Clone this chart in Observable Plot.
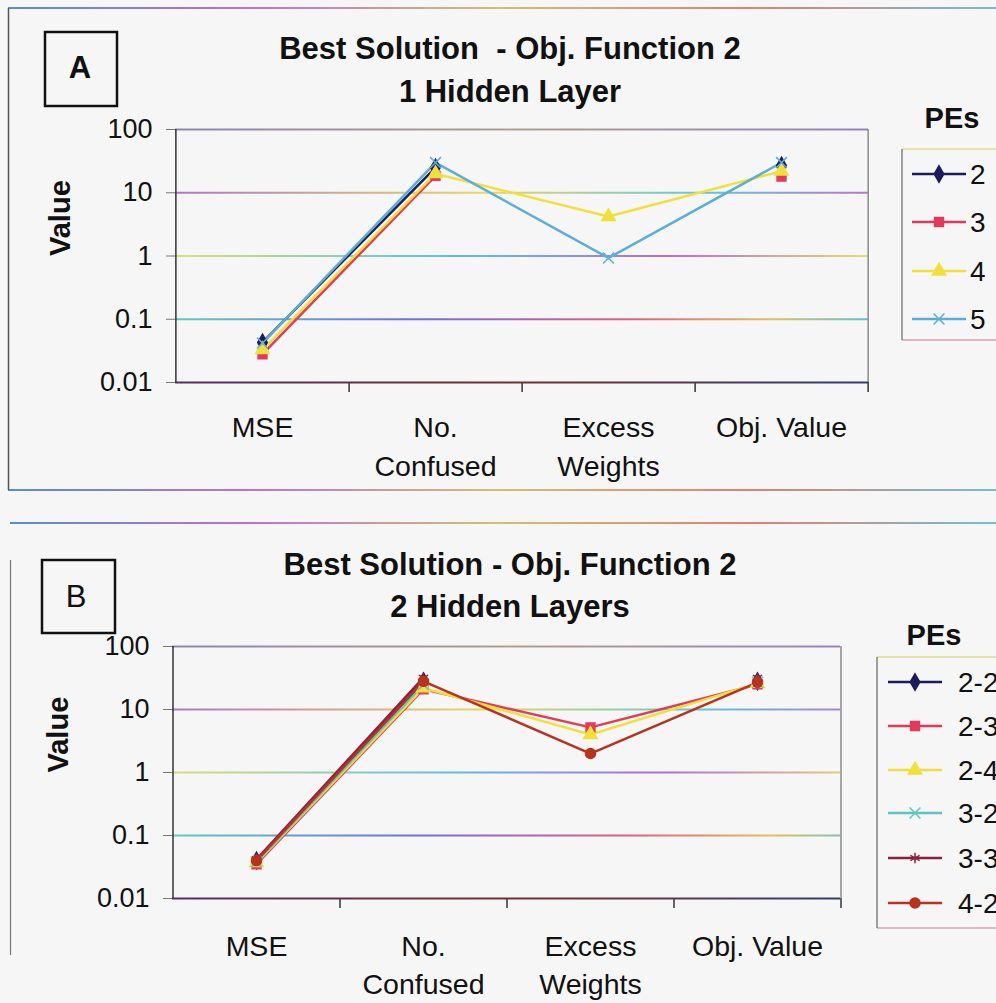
<!DOCTYPE html>
<html><head><meta charset="utf-8">
<script src="https://cdn.jsdelivr.net/npm/d3@7"></script>
<script src="https://cdn.jsdelivr.net/npm/@observablehq/plot@0.6"></script>
<style>
html,body{margin:0;padding:0;background:#f6f6f6;}
#page{position:relative;width:996px;height:1003px;overflow:hidden;font-family:"Liberation Sans",Arial,sans-serif;}
#page > svg{position:absolute;left:0;}
</style></head><body>
<svg width="0" height="0" style="position:absolute">
  <defs>
    <linearGradient id="g100" gradientUnits="userSpaceOnUse" x1="160" x2="880" y1="0" y2="0">
      <stop offset="0" stop-color="#8f86b0"/><stop offset="0.5" stop-color="#b0a090"/><stop offset="1" stop-color="#9a80c0"/>
    </linearGradient>
    <linearGradient id="g10" gradientUnits="userSpaceOnUse" x1="160" x2="880" y1="0" y2="0">
      <stop offset="0" stop-color="#b070d0"/><stop offset="0.45" stop-color="#e8d860"/><stop offset="0.75" stop-color="#60c8d8"/><stop offset="1" stop-color="#c070d0"/>
    </linearGradient>
    <linearGradient id="g1" gradientUnits="userSpaceOnUse" x1="160" x2="880" y1="0" y2="0">
      <stop offset="0" stop-color="#e0e070"/><stop offset="0.4" stop-color="#60c0e0"/><stop offset="0.7" stop-color="#b070d0"/><stop offset="1" stop-color="#e8e070"/>
    </linearGradient>
    <linearGradient id="g01" gradientUnits="userSpaceOnUse" x1="160" x2="880" y1="0" y2="0">
      <stop offset="0" stop-color="#60d0c0"/><stop offset="0.35" stop-color="#7070e0"/><stop offset="0.65" stop-color="#e06080"/><stop offset="0.85" stop-color="#e0c060"/><stop offset="1" stop-color="#50c0e0"/>
    </linearGradient>
    <linearGradient id="g001" gradientUnits="userSpaceOnUse" x1="160" x2="880" y1="0" y2="0">
      <stop offset="0" stop-color="#503060"/><stop offset="0.5" stop-color="#703030"/><stop offset="1" stop-color="#304070"/>
    </linearGradient>
    <linearGradient id="gframe" gradientUnits="userSpaceOnUse" x1="0" x2="996" y1="0" y2="0">
      <stop offset="0" stop-color="#5090d0"/><stop offset="0.25" stop-color="#c070d0"/><stop offset="0.5" stop-color="#d0c070"/><stop offset="0.75" stop-color="#e08070"/><stop offset="1" stop-color="#70c0d0"/>
    </linearGradient>
  </defs>
</svg>
<div id="page"></div>
<script>
// ---------- shared ----------
const categories = ["MSE", "No. Confused", "Excess Weights", "Obj. Value"];
const categoryTickLabels = ["MSE", "No.\nConfused", "Excess\nWeights", "Obj. Value"];
const yTicks = [0.01, 0.1, 1, 10, 100];
const yTickLabels = ["0.01", "0.1", "1", "10", "100"];
const yLabel = "Value";
const legendTitle = "PEs";

// ---------- panel A ----------
const panelA = "A";
const titleA = ["Best Solution  - Obj. Function 2", "1 Hidden Layer"];
const seriesA = ["2", "3", "4", "5"];
const peA2 = [0.043, 25, null, 27];
const peA3 = [0.028, 18.5, null, 18];
const peA4 = [0.033, 20, 4.2, 22];
const peA5 = [0.042, 30, 0.93, 30];
const colorsA = ["#1c1c5c", "#e23a5a", "#f2e03a", "#5aaed8"];
const symbolsA = ["diamond", "square", "triangle", "times"];

// ---------- panel B ----------
const panelB = "B";
const titleB = ["Best Solution - Obj. Function 2", "2 Hidden Layers"];
const seriesB = ["2-2", "2-3", "2-4", "3-2", "3-3", "4-2"];
const peB22 = [0.040, 28, null, 28];
const peB23 = [0.035, 21, 5.2, 25];
const peB24 = [0.037, 22, 4.0, 26];
const peB32 = [0.038, 25, null, 27];
const peB33 = [0.042, 32, null, 32];
const peB42 = [0.040, 28, 2.0, 27];
const colorsB = ["#1c1c5c", "#e23a5a", "#f2e03a", "#5ec4c4", "#8c2040", "#b8321e"];
const symbolsB = ["diamond", "square", "triangle", "times", "asterisk", "circle"];

const gridStrokes = ["url(#g001)", "url(#g01)", "url(#g1)", "url(#g10)", "url(#g100)"];
const FONT = '"Liberation Sans", Arial, sans-serif';

function chart(o) {
  const rows = [];
  o.series.forEach((s, i) => o.values[i].forEach((v, j) =>
    rows.push({series: s, category: categories[j], value: v == null ? NaN : v})));
  const step = (o.width - o.ml - o.mr) / categories.length;
  const plotH = o.height - o.mt - o.mb;
  return Plot.plot({
    width: o.width, height: o.height,
    marginLeft: o.ml, marginRight: o.mr, marginTop: o.mt, marginBottom: o.mb,
    style: {background: "transparent", fontFamily: FONT, fontSize: "27px", color: "#111", overflow: "visible"},
    x: {type: "point", domain: categories, padding: 0.5, label: null},
    y: {type: "log", domain: [0.01, 100], label: null},
    color: {domain: o.series, range: o.colors},
    symbol: {domain: o.series, range: o.symbols},
    marks: [
      ...yTicks.slice(1).map((t, i) => Plot.ruleY([t], {stroke: gridStrokes[i + 1], strokeWidth: 2})),
      Plot.ruleX([categories[categories.length - 1]], {dx: step / 2, stroke: "#8a8a8a", strokeWidth: 1.5}),
      Plot.ruleX(categories, {dx: step / 2, insetTop: plotH, insetBottom: -10, stroke: "#333", strokeWidth: 1.5}),
      Plot.ruleY([yTicks[0]], {stroke: gridStrokes[0], strokeWidth: 2}),
      Plot.ruleX([categories[0]], {dx: -step / 2, stroke: "#333", strokeWidth: 1.5}),
      Plot.axisY({ticks: yTicks, tickFormat: d => yTickLabels[yTicks.indexOf(d)], tickSize: 9, tickPadding: 14,
        stroke: "#777", fill: "#111", label: null}),
      Plot.axisX({tickSize: 0, tickPadding: o.tickPad, lineHeight: o.lineHeight, fontSize: 28.5,
        tickFormat: d => categoryTickLabels[categories.indexOf(d)], fill: "#111", label: null}),
      Plot.line(rows, {x: "category", y: "value", z: "series", stroke: "series", strokeWidth: 2.5}),
      Plot.dot(rows, {x: "category", y: "value", symbol: "series", fill: "series", stroke: "series", strokeWidth: 1.5, r: 5}),
      Plot.text([yLabel], {text: d => d, frameAnchor: "left", rotate: -90, dx: o.labelDx,
        fontWeight: "bold", fontSize: 29, fill: "#111"})
    ]
  });
}

const page = document.getElementById("page");

const plotA = chart({series: seriesA, values: [peA2, peA3, peA4, peA5], colors: colorsA, symbols: symbolsA,
  width: 996, height: 490, ml: 175, mr: 128, mt: 129, mb: 108, tickPad: 27, lineHeight: 1.37, labelDx: -115});
plotA.style.top = "0px";
page.appendChild(plotA);

const plotB = chart({series: seriesB, values: [peB22, peB23, peB24, peB32, peB33, peB42], colors: colorsB, symbols: symbolsB,
  width: 996, height: 503, ml: 172, mr: 156, mt: 146, mb: 105, tickPad: 31, lineHeight: 1.32, labelDx: -114});
plotB.style.top = "500px";
page.appendChild(plotB);

// ---------- overlay: frames, titles, panel letters, legends ----------
const ov = d3.select(page).append("svg").attr("width", 996).attr("height", 1003)
  .style("top", "0px").style("font-family", FONT);

// panel frames
ov.append("line").attr("x1", 8).attr("x2", 996).attr("y1", 8).attr("y2", 8).attr("stroke", "url(#gframe)").attr("stroke-width", 2);
ov.append("line").attr("x1", 8).attr("x2", 996).attr("y1", 490).attr("y2", 490).attr("stroke", "url(#gframe)").attr("stroke-width", 2);
ov.append("line").attr("x1", 8.5).attr("x2", 8.5).attr("y1", 8).attr("y2", 490).attr("stroke", "#555").attr("stroke-width", 1.5);
ov.append("line").attr("x1", 10).attr("x2", 996).attr("y1", 523).attr("y2", 523).attr("stroke", "url(#gframe)").attr("stroke-width", 2);
ov.append("line").attr("x1", 10.5).attr("x2", 10.5).attr("y1", 560).attr("y2", 955).attr("stroke", "#777").attr("stroke-width", 1.2);

const symMap = {diamond: d3.symbolDiamond, square: d3.symbolSquare, triangle: d3.symbolTriangle,
  times: d3.symbolTimes, asterisk: d3.symbolAsterisk, circle: d3.symbolCircle};

function annotate(p) {
  // title
  p.title.forEach((t, i) => ov.append("text").attr("x", p.titleX).attr("y", p.titleY[i])
    .attr("text-anchor", "middle").attr("font-weight", "bold").attr("font-size", 31).attr("fill", "#111")
    .style("white-space", "pre").text(t));
  // panel letter box
  ov.append("rect").attr("x", p.box[0]).attr("y", p.box[1]).attr("width", p.box[2]).attr("height", p.box[3])
    .attr("fill", "none").attr("stroke", "#111").attr("stroke-width", 2.5);
  ov.append("text").attr("x", p.letterX).attr("y", p.letterY).attr("text-anchor", "middle")
    .attr("font-weight", p.letterWeight).attr("font-size", 31).attr("fill", "#111").text(p.letter);
  // legend
  ov.append("text").attr("x", p.legTitleX).attr("y", p.legTitleY).attr("text-anchor", "middle")
    .attr("font-weight", "bold").attr("font-size", 29).attr("fill", "#111").text(legendTitle);
  const [lx, ly, lh] = p.legBox;
  ov.append("line").attr("x1", lx).attr("x2", 996).attr("y1", ly).attr("y2", ly).attr("stroke", "#e0d890").attr("stroke-width", 1.5);
  ov.append("line").attr("x1", lx).attr("x2", 996).attr("y1", ly + lh).attr("y2", ly + lh).attr("stroke", "#d8a0b0").attr("stroke-width", 1.5);
  ov.append("line").attr("x1", lx).attr("x2", lx).attr("y1", ly).attr("y2", ly + lh).attr("stroke", "#666").attr("stroke-width", 1.2);
  p.series.forEach((s, i) => {
    const cy = p.legY[i];
    const g = ov.append("g");
    g.append("line").attr("x1", p.legLine[0]).attr("x2", p.legLine[1]).attr("y1", cy).attr("y2", cy)
      .attr("stroke", p.colors[i]).attr("stroke-width", 2.5);
    g.append("path").attr("transform", `translate(${(p.legLine[0] + p.legLine[1]) / 2},${cy})`)
      .attr("d", d3.symbol(symMap[p.symbols[i]], 25 * Math.PI)())
      .attr("fill", p.colors[i]).attr("stroke", p.colors[i]).attr("stroke-width", 1.5);
    g.append("text").attr("x", p.legText).attr("y", cy + 10).attr("font-size", 28).attr("fill", "#111").text(s);
  });
}

annotate({title: titleA, titleX: 510, titleY: [59, 102], box: [45, 32, 72, 74], letter: panelA, letterX: 80, letterY: 78,
  letterWeight: "bold", legTitleX: 952, legTitleY: 128, legBox: [902, 149, 191], series: seriesA, colors: colorsA,
  symbols: symbolsA, legY: [174, 222, 271, 319], legLine: [912, 966], legText: 970});
annotate({title: titleB, titleX: 510, titleY: [575, 617], box: [42, 560, 73, 73], letter: panelB, letterX: 76, letterY: 607,
  letterWeight: "normal", legTitleX: 934, legTitleY: 645, legBox: [877, 657, 271], series: seriesB, colors: colorsB,
  symbols: symbolsB, legY: [682, 726, 770, 813, 858, 903], legLine: [888, 942], legText: 958});
</script>
</body></html>
